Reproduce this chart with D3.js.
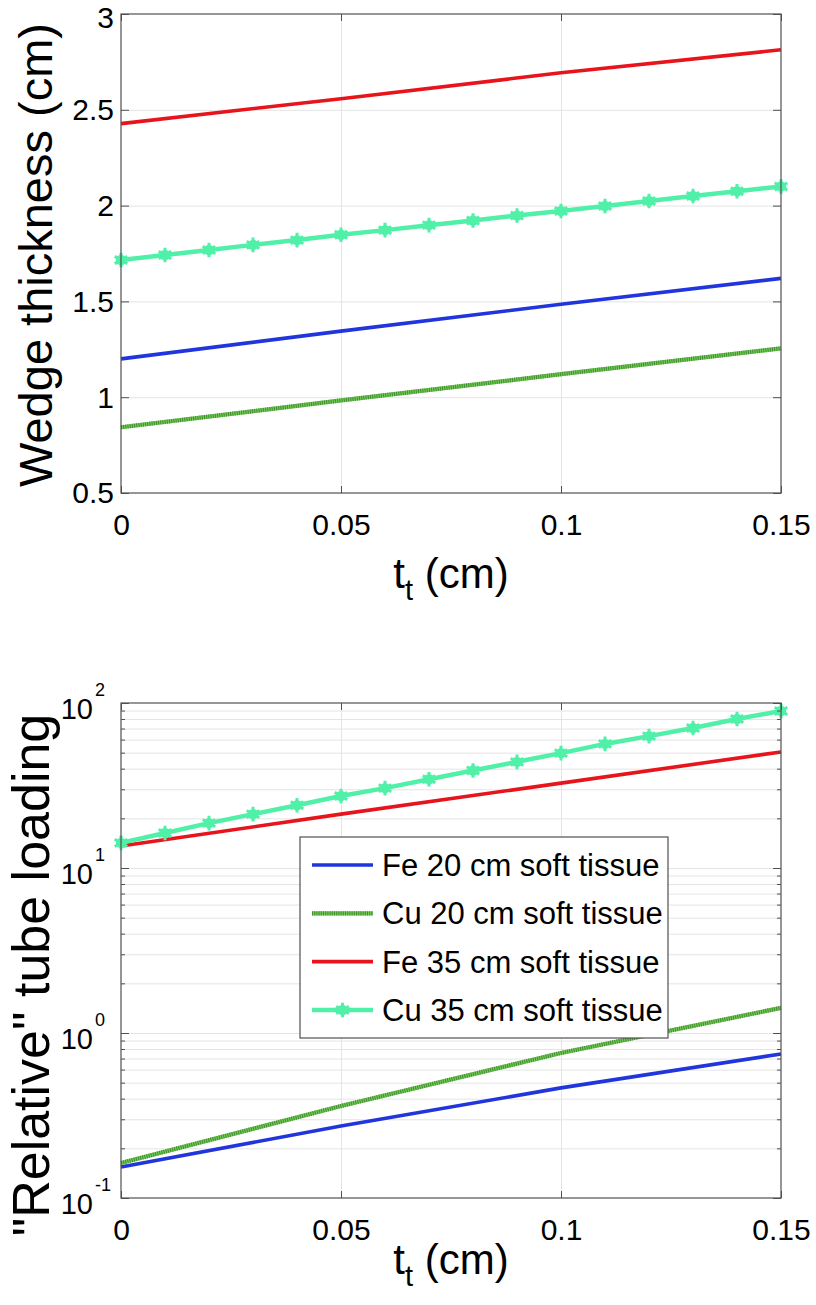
<!DOCTYPE html>
<html><head><meta charset="utf-8">
<script src="https://cdn.jsdelivr.net/npm/d3@7"></script>
<style>
body{margin:0;background:#fff}
svg{display:block}
text{font-family:"Liberation Sans",Arial,Helvetica,sans-serif;fill:#000}
</style>
</head><body><div id="chart"></div>
<script>
// ---------- data ----------
const tTicks = [0, 0.05, 0.1, 0.15];
const tTickLabels = ["0", "0.05", "0.1", "0.15"];
const wedgeTicks = [0.5, 1, 1.5, 2, 2.5, 3];
const wedgeTickLabels = ["0.5", "1", "1.5", "2", "2.5", "3"];
const loadTicks = [0.1, 1, 10, 100];
const loadTickExps = ["-1", "0", "1", "2"];
const seriesNames = ["Fe 20 cm soft tissue", "Cu 20 cm soft tissue", "Fe 35 cm soft tissue", "Cu 35 cm soft tissue"];

// sampled thicknesses (cm)
const lineT = [0, 0.05, 0.1, 0.15];
const markerT = [0, 0.01, 0.02, 0.03, 0.04, 0.05, 0.06, 0.07, 0.08, 0.09, 0.10, 0.11, 0.12, 0.13, 0.14, 0.15];

// top panel: wedge thickness (cm)
const wedgeFe20 = [1.20, 1.345, 1.485, 1.62];
const wedgeCu20 = [0.843, 0.983, 1.12, 1.255];
const wedgeFe35 = [2.428, 2.558, 2.693, 2.813];
const wedgeCu35 = [1.716, 1.742, 1.768, 1.795, 1.82, 1.848, 1.872, 1.898, 1.922, 1.948, 1.972, 1.998, 2.024, 2.05, 2.075, 2.10];

// bottom panel: relative tube loading
const loadFe20 = [0.154, 0.273, 0.465, 0.746];
const loadCu20 = [0.163, 0.361, 0.757, 1.42];
const loadFe35 = [13.6, 21.2, 32.7, 50.5];
const loadCu35 = [14.2, 16.3, 18.7, 21.2, 24.0, 27.3, 30.5, 34.5, 39.0, 44.0, 49.7, 56.5, 63.0, 70.5, 80.0, 89.5];

// ---------- styles ----------
const colors = ["#2035dc", "#55b040", "#e8141c", "#50f0a8"];
const axisColor = "#505050";
const gridColor = "#e4e4e4";

const W = 816, H = 1305;
const svg = d3.select("#chart").append("svg").attr("width", W).attr("height", H);

const xLeft = 121, xRight = 781;
const x = d3.scaleLinear().domain([0, 0.15]).range([xLeft, xRight]);

function addMarker(g, cx, cy) {
  const m = g.append("g").attr("transform", `translate(${cx},${cy})`);
  m.append("circle").attr("r", 5.2).attr("fill", colors[3]);
  m.append("path").attr("d", d3.symbol().type(d3.symbolAsterisk).size(150)())
    .attr("fill", "none").attr("stroke", colors[3]).attr("stroke-width", 3);
}

function drawSeriesLine(g, xs, ys, yScale, i) {
  const pts = xs.map((t, k) => [t, ys[k]]);
  const line = d3.line().x(d => x(d[0])).y(d => yScale(d[1]));
  if (i === 1) {
    g.append("path").datum(pts).attr("d", line).attr("fill", "none")
      .attr("stroke", "#74c95a").attr("stroke-width", 4.2);
    g.append("path").datum(pts).attr("d", line).attr("fill", "none")
      .attr("stroke", "#3f8f2c").attr("stroke-width", 4.2).attr("stroke-dasharray", "1,1.2");
  } else {
    g.append("path").datum(pts).attr("d", line).attr("fill", "none")
      .attr("stroke", colors[i]).attr("stroke-width", i === 3 ? 4.5 : 3.6)
      .attr("stroke-linejoin", "round");
  }
  if (i === 3) pts.forEach(d => addMarker(g, x(d[0]), yScale(d[1])));
}

function styleAxis(g) {
  g.selectAll(".domain").remove();
  g.selectAll(".tick line").attr("stroke", axisColor).attr("stroke-width", 1);
}

function drawPanel(opt) {
  const { y, yTop, yBot, log } = opt;
  const g = svg.append("g");
  const h = yBot - yTop;

  // grid
  g.append("g").attr("transform", `translate(0,${yBot})`)
    .call(d3.axisBottom(x).tickValues([0.05, 0.1]).tickSize(-h).tickFormat(""))
    .call(a => { a.selectAll(".domain").remove(); a.selectAll("line").attr("stroke", gridColor); });
  g.append("g").attr("transform", `translate(${xLeft},0)`)
    .call(d3.axisLeft(y).tickValues(opt.gridVals).tickSize(-(xRight - xLeft)).tickFormat(""))
    .call(a => { a.selectAll(".domain").remove(); a.selectAll("line").attr("stroke", gridColor); });

  // series
  opt.series.forEach((s, i) => drawSeriesLine(g, s.t, s.v, y, i));

  // box
  g.append("rect").attr("x", xLeft).attr("y", yTop).attr("width", xRight - xLeft).attr("height", h)
    .attr("fill", "none").attr("stroke", axisColor).attr("stroke-width", 1.2);

  // ticks on all four sides
  g.append("g").attr("transform", `translate(0,${yBot})`)
    .call(d3.axisBottom(x).tickValues(tTicks).tickSizeInner(-7).tickSizeOuter(0)
      .tickFormat((d, k) => tTickLabels[k]))
    .call(styleAxis)
    .call(a => a.selectAll("text").attr("y", 42).attr("dy", null).attr("font-size", 30));
  g.append("g").attr("transform", `translate(0,${yTop})`)
    .call(d3.axisTop(x).tickValues(tTicks).tickSizeInner(-7).tickSizeOuter(0).tickFormat(""))
    .call(styleAxis);

  const leftAx = d3.axisLeft(y).tickValues(opt.tickVals).tickSizeInner(-8).tickSizeOuter(0);
  const rightAx = d3.axisRight(y).tickValues(opt.tickVals).tickSizeInner(-8).tickSizeOuter(0).tickFormat("");
  if (log) leftAx.tickFormat("");
  else leftAx.tickFormat((d, k) => opt.tickLabels[k]);
  const la = g.append("g").attr("transform", `translate(${xLeft},0)`).call(leftAx).call(styleAxis);
  g.append("g").attr("transform", `translate(${xRight},0)`).call(rightAx).call(styleAxis);

  if (!log) {
    // keep the topmost label inside the page
    la.selectAll("text").attr("x", -7).attr("dy", "0.33em").attr("font-size", 30)
      .attr("y", d => Math.max(0, 28 - (y(d) + 10)));
  } else {
    la.selectAll(".tick").each(function (d, k) {
      d3.select(this).append("text").attr("fill", "#000").attr("text-anchor", "end")
        .attr("x", -28).attr("y", 15).attr("font-size", 29).text("10");
      d3.select(this).append("text").attr("fill", "#000").attr("text-anchor", "start")
        .attr("x", -26).attr("y", -8).attr("font-size", 18).text(opt.tickExps[k]);
    });
    const minor = opt.minorVals;
    g.append("g").attr("transform", `translate(${xLeft},0)`)
      .call(d3.axisLeft(y).tickValues(minor).tickSizeInner(-4).tickSizeOuter(0).tickFormat(""))
      .call(styleAxis);
    g.append("g").attr("transform", `translate(${xRight},0)`)
      .call(d3.axisRight(y).tickValues(minor).tickSizeInner(-4).tickSizeOuter(0).tickFormat(""))
      .call(styleAxis);
  }

  // axis labels
  const xl = g.append("text").attr("x", (xLeft + xRight) / 2).attr("y", opt.xLabelY)
    .attr("text-anchor", "middle").attr("font-size", 42);
  xl.append("tspan").text("t");
  xl.append("tspan").attr("font-size", 29).attr("dy", 12).text("t");
  xl.append("tspan").attr("dy", -12).text(" (cm)");

  g.append("text").attr("transform", `translate(${opt.yLabelX},${opt.yLabelCY}) rotate(-90)`)
    .attr("text-anchor", "middle").attr("font-size", opt.yLabelSize).text(opt.yLabel);
  return g;
}

// ---------- top panel ----------
const yTopScale = d3.scaleLinear().domain([0.5, 3]).range([493, 14]);
drawPanel({
  y: yTopScale, yTop: 14, yBot: 493, log: false,
  gridVals: [1, 1.5, 2, 2.5],
  tickVals: wedgeTicks, tickLabels: wedgeTickLabels,
  series: [
    { t: lineT, v: wedgeFe20 },
    { t: lineT, v: wedgeCu20 },
    { t: lineT, v: wedgeFe35 },
    { t: markerT, v: wedgeCu35 }
  ],
  xLabelY: 588, yLabelX: 52, yLabelCY: 255, yLabelSize: 47, yLabel: "Wedge thickness (cm)"
});

// ---------- bottom panel ----------
const yBotScale = d3.scaleLog().domain([0.1, 100]).range([1198, 703]);
const minorVals = [];
[0.1, 1, 10].forEach(dec => { for (let m = 2; m <= 9; m++) minorVals.push(+(m * dec).toPrecision(3)); });
drawPanel({
  y: yBotScale, yTop: 703, yBot: 1198, log: true,
  gridVals: [1, 10].concat(minorVals),
  tickVals: loadTicks, tickExps: loadTickExps, minorVals: minorVals,
  series: [
    { t: lineT, v: loadFe20 },
    { t: lineT, v: loadCu20 },
    { t: lineT, v: loadFe35 },
    { t: markerT, v: loadCu35 }
  ],
  xLabelY: 1274, yLabelX: 49, yLabelCY: 975, yLabelSize: 52, yLabel: "\"Relative\" tube loading"
});

// ---------- legend ----------
const lg = svg.append("g");
lg.append("rect").attr("x", 300).attr("y", 837).attr("width", 368).attr("height", 201)
  .attr("fill", "#fff").attr("stroke", axisColor).attr("stroke-width", 1.2);
const rowY = d3.scalePoint().domain(seriesNames).range([865, 1010]);
seriesNames.forEach((name, i) => {
  const yy = rowY(name);
  if (i === 1) {
    lg.append("line").attr("x1", 312).attr("x2", 373).attr("y1", yy).attr("y2", yy)
      .attr("stroke", "#74c95a").attr("stroke-width", 4.2);
    lg.append("line").attr("x1", 312).attr("x2", 373).attr("y1", yy).attr("y2", yy)
      .attr("stroke", "#3f8f2c").attr("stroke-width", 4.2).attr("stroke-dasharray", "1,1.2");
  } else {
    lg.append("line").attr("x1", 312).attr("x2", 373).attr("y1", yy).attr("y2", yy)
      .attr("stroke", colors[i]).attr("stroke-width", i === 3 ? 4.5 : 3.6);
  }
  if (i === 3) addMarker(lg, 342.5, yy);
  lg.append("text").attr("x", 382).attr("y", yy).attr("dy", "0.36em")
    .attr("font-size", 31).text(name);
});
</script>
</body></html>
